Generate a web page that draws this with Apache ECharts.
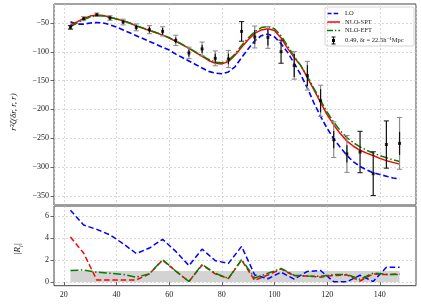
<!DOCTYPE html>
<html><head><meta charset="utf-8">
<script src="https://cdn.jsdelivr.net/npm/echarts@6/dist/echarts.min.js"></script>
<style>html,body{margin:0;padding:0;background:#fff}#c{width:421px;height:304px}</style>
</head><body><div id="c"></div><script>
// ---- data ----
const xData = [22.5,27.5,32.5,37.5,42.5,47.5,52.5,57.5,62.5,67.5,72.5,77.5,82.5,87.5,92.5,97.5,102.5,107.5,112.5,117.5,122.5,127.5,132.5,137.5,142.5,147.5];
const obsVal = [-57.6,-42.5,-35.6,-41.3,-48.3,-57.6,-61.6,-64.5,-80.2,-102,-95,-111.4,-112.5,-64.6,-74.3,-75,-99.8,-123.6,-141.5,-185,-252.6,-277.4,-274,-311.6,-261,-259];
const errOuter = [3,3.5,3,4,5,6,7,8,9,10,12,13,15,17,19,19,20,24,25,27,31,32,36,38,41,45];
const errInner = [3,2,2,3,3,4,5,6,5,6,7,8,9,17,12,14,20,20,18,20,15,15,36,38,41,20];

const xModel = [22.5,25,27.5,30,32.5,35,37.5,40,42.5,45,47.5,50,52.5,55,57.5,60,62.5,65,67.5,70,72.5,75,77.5,80,82.5,85,87.5,90,92.5,95,97.5,100,102.5,105,107.5,110,112.5,115,117.5,120,122.5,125,127.5,130,132.5,135,137.5,140,142.5,145,147.5];
const modelLO  = [-48,-52,-52,-50,-49,-50,-53,-57,-62,-67,-72,-77,-82,-87,-92,-97,-104,-110,-116,-122,-128,-134,-137,-138,-135,-126,-110,-95,-81,-72,-69,-74,-86,-101,-120,-140,-163,-189,-212,-233,-251,-266,-280,-291,-299,-305,-310,-313,-316,-319,-321];
const modelSPT = [-53,-48,-42,-38,-36,-37,-40,-43,-46,-50,-55,-59,-63,-67,-71,-76,-82,-88,-94,-101,-108,-115,-120,-121,-117,-106,-92,-79,-68,-62,-60,-63,-76,-94,-110,-124,-145,-166,-188,-209,-227,-242,-255,-264,-271,-276,-280,-285,-289,-292,-295];
const modelEFT = [-56,-50,-44,-39.5,-37.5,-38,-40,-43,-46,-50,-54.5,-58.5,-62.5,-66.5,-70.5,-75.5,-81,-87,-93.5,-100,-107,-113,-118,-119,-115,-104,-89,-76,-65,-58,-56,-60,-72,-90,-108,-124,-143,-164,-184,-205,-222,-237,-249,-258,-265,-271,-276,-280,-284,-287.5,-290.5];

const ratioLO  = [6.55,5.2,4.8,4.3,3.5,2.6,3.1,3.9,2.8,1.5,3.0,1.95,1.7,3.25,0.65,0.3,0.9,0.27,0.97,1.05,0.03,0.03,0.62,0.05,1.35,1.35];
const ratioSPT = [4.1,2.65,0.18,0.18,0.18,0.2,0.75,2.0,1.0,0.05,1.55,0.75,0.33,2.0,0.15,0.65,1.18,0.58,0.55,0.45,0.6,0.65,0.1,0.74,0.68,0.74];
const ratioEFT = [1.05,1.1,0.9,0.8,0.7,0.45,0.75,2.05,1.0,0.05,1.6,0.8,0.33,2.05,0.37,0.8,1.25,0.62,0.55,0.52,0.68,0.7,0.25,0.82,0.7,0.7];
const bandRange = [22.5, 147.5, 0, 1];

const xTicks = [20,40,60,80,100,120,140];
const yTicksTop = [-350,-300,-250,-200,-150,-100,-50];
const yTicksBottom = [0,2,4,6];
const legendNames = ['LO','NLO-SPT','NLO-EFT','0.49, δr = 22.5h⁻¹Mpc'];

// ---- chart ----
const FONT = '"Liberation Serif", "DejaVu Serif", serif';
const C_LO = '#0000ff', C_SPT = '#ff0000', C_EFT = '#008000';
const zip = (a, b) => a.map((v, i) => [v, b[i]]);
const minus = v => String(v).replace('-', '\u2212');
const gridLine = {show:true, lineStyle:{color:'#cfcfcf', type:[2,2], width:0.8}};
const tickStyle = {show:true, inside:false, length:3.5, lineStyle:{color:'#444', width:0.8}};
const lblStyle = {color:'#222', fontFamily:FONT, fontSize:8};

const chart = echarts.init(document.getElementById('c'), null, {renderer:'canvas'});
const option = {
  animation:false,
  backgroundColor:'#fff',
  grid:[
    {left:54, right:5, top:4, height:201, show:true, borderColor:'#444', borderWidth:1, backgroundColor:'transparent'},
    {left:54, right:5, top:206, height:79.7, show:true, borderColor:'#444', borderWidth:1, backgroundColor:'transparent'}
  ],
  xAxis:[
    {gridIndex:0, type:'value', min:16.25, max:153.75, minInterval:20, maxInterval:20,
     axisLine:{show:false}, axisTick:{show:false}, axisLabel:{show:false}, splitLine:gridLine},
    {gridIndex:1, type:'value', min:16.25, max:153.75, minInterval:20, maxInterval:20,
     axisLine:{show:false}, axisTick:Object.assign({customValues:xTicks}, tickStyle),
     axisLabel:Object.assign({customValues:xTicks, margin:5, formatter:v => (v % 20 === 0 ? minus(v) : '')}, lblStyle),
     splitLine:gridLine}
  ],
  yAxis:[
    {gridIndex:0, type:'value', min:-366, max:-17, minInterval:50, maxInterval:50,
     axisLine:{show:false}, axisTick:Object.assign({customValues:yTicksTop}, tickStyle),
     axisLabel:Object.assign({customValues:yTicksTop, margin:5, formatter:v => (v % 50 === 0 ? minus(v) : '')}, lblStyle),
     splitLine:gridLine},
    {gridIndex:1, type:'value', min:-0.33, max:6.93, minInterval:2, maxInterval:2,
     axisLine:{show:false}, axisTick:Object.assign({customValues:yTicksBottom}, tickStyle),
     axisLabel:Object.assign({customValues:yTicksBottom, margin:5, formatter:v => (Number.isInteger(v) && v % 2 === 0 ? minus(v) : '')}, lblStyle),
     splitLine:gridLine}
  ],
  series:[
    {type:'line', xAxisIndex:0, yAxisIndex:0, data:zip(xModel, modelLO), showSymbol:false, smooth:false,
     lineStyle:{color:C_LO, width:1.6, type:[5.5,2.8]}, z:2},
    {type:'line', xAxisIndex:0, yAxisIndex:0, data:zip(xModel, modelSPT), showSymbol:false, smooth:false,
     lineStyle:{color:C_SPT, width:1.5}, z:2},
    {type:'line', xAxisIndex:0, yAxisIndex:0, data:zip(xModel, modelEFT), showSymbol:false, smooth:false,
     lineStyle:{color:C_EFT, width:1.5, type:[8,2.4,1.5,2.4]}, z:3},
    {type:'custom', xAxisIndex:0, yAxisIndex:0, z:4,
     data:xData.map((x, i) => [x, obsVal[i], errOuter[i], errInner[i]]),
     renderItem:function(params, api){
       const x = api.value(0), y = api.value(1), eo = api.value(2), ei = api.value(3);
       const t = api.coord([x, y + eo]), b = api.coord([x, y - eo]);
       const ti = api.coord([x, y + ei]), bi = api.coord([x, y - ei]);
       const full = ei >= eo;
       const col = full ? '#111' : '#8a8a8a';
       const cw = 2.6;
       const ch = [
         {type:'line', shape:{x1:t[0], y1:t[1], x2:b[0], y2:b[1]}, style:{stroke:col, lineWidth:1.2}},
         {type:'line', shape:{x1:t[0]-cw, y1:t[1], x2:t[0]+cw, y2:t[1]}, style:{stroke:col, lineWidth:1}},
         {type:'line', shape:{x1:b[0]-cw, y1:b[1], x2:b[0]+cw, y2:b[1]}, style:{stroke:col, lineWidth:1}}
       ];
       if (!full) ch.push({type:'line', shape:{x1:ti[0], y1:ti[1], x2:bi[0], y2:bi[1]}, style:{stroke:'#111', lineWidth:1.2}});
       return {type:'group', children:ch};
     }},
    {type:'scatter', xAxisIndex:0, yAxisIndex:0, data:zip(xData, obsVal), symbol:'rect', symbolSize:3,
     itemStyle:{color:'#000'}, z:5},
    // bottom panel
    {type:'custom', xAxisIndex:1, yAxisIndex:1, z:1, data:[bandRange],
     renderItem:function(params, api){
       const p0 = api.coord([api.value(0), api.value(3)]);
       const p1 = api.coord([api.value(1), api.value(2)]);
       return {type:'rect', shape:{x:p0[0], y:p0[1], width:p1[0]-p0[0], height:p1[1]-p0[1]}, style:{fill:'#d3d3d3'}};
     }},
    {type:'line', xAxisIndex:1, yAxisIndex:1, data:zip(xData, ratioLO), showSymbol:false,
     lineStyle:{color:C_LO, width:1.5, type:[5.5,2.8]}, z:2},
    {type:'line', xAxisIndex:1, yAxisIndex:1, data:zip(xData, ratioSPT), showSymbol:false,
     lineStyle:{color:C_SPT, width:1.5, type:[5.5,2.8]}, z:2},
    {type:'line', xAxisIndex:1, yAxisIndex:1, data:zip(xData, ratioEFT), showSymbol:false,
     lineStyle:{color:C_EFT, width:1.5, type:[8,2.4,1.5,2.4]}, z:3}
  ],
  graphic:[
    {type:'rect', shape:{x:54, y:204.6, width:362, height:2}, style:{fill:'#9a9a9a'}, z:50},
    {type:'text', x:14, y:112, rotation:Math.PI/2,
     style:{text:'r³ζ(δr, r, r)', font:'italic 9px ' + FONT, fill:'#222', align:'center', verticalAlign:'middle'}, z:50},
    {type:'text', x:18, y:249, rotation:Math.PI/2,
     style:{text:'{a||R}{b|i}{a||}', align:'center', verticalAlign:'middle', fill:'#222',
       rich:{a:{font:'italic 9px ' + FONT, fill:'#222', lineHeight:12},
             b:{font:'italic 6px ' + FONT, fill:'#222', lineHeight:12, verticalAlign:'bottom'}}}, z:50},
    // legend
    {type:'group', z:60, children:[
      {type:'rect', shape:{x:325, y:7, width:89, height:39, r:2}, style:{fill:'rgba(255,255,255,0.85)', stroke:'#cccccc', lineWidth:0.8}},
      {type:'line', shape:{x1:327, y1:13.5, x2:340, y2:13.5}, style:{stroke:C_LO, lineWidth:1.5, lineDash:[4.5,2.2]}},
      {type:'line', shape:{x1:327, y1:22, x2:340, y2:22}, style:{stroke:C_SPT, lineWidth:1.5}},
      {type:'line', shape:{x1:327, y1:30.5, x2:340, y2:30.5}, style:{stroke:C_EFT, lineWidth:1.5, lineDash:[6,2,1.3,2]}},
      {type:'line', shape:{x1:333.5, y1:37, x2:333.5, y2:44}, style:{stroke:'#111', lineWidth:1.2}},
      {type:'line', shape:{x1:331.5, y1:37, x2:335.5, y2:37}, style:{stroke:'#111', lineWidth:1}},
      {type:'line', shape:{x1:331.5, y1:44, x2:335.5, y2:44}, style:{stroke:'#111', lineWidth:1}},
      {type:'rect', shape:{x:332, y:39, width:3, height:3}, style:{fill:'#000'}},
      {type:'text', x:345, y:13.5, style:{text:legendNames[0], font:'6.5px ' + FONT, fill:'#222', verticalAlign:'middle'}},
      {type:'text', x:345, y:22, style:{text:legendNames[1], font:'6.5px ' + FONT, fill:'#222', verticalAlign:'middle'}},
      {type:'text', x:345, y:30.5, style:{text:legendNames[2], font:'6.5px ' + FONT, fill:'#222', verticalAlign:'middle'}},
      {type:'text', x:345, y:40.5, style:{text:legendNames[3], font:'6.5px ' + FONT, fill:'#222', verticalAlign:'middle'}}
    ]}
  ]
};
chart.setOption(option);
</script></body></html>
